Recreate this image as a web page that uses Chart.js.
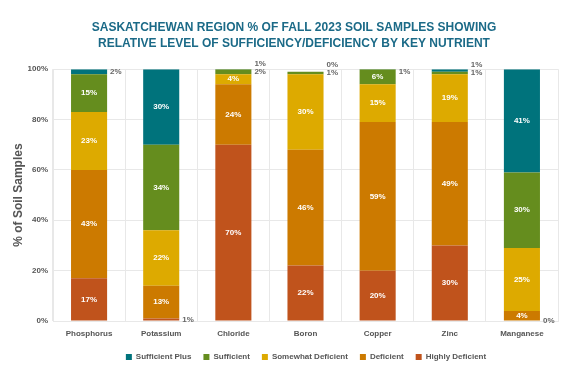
<!DOCTYPE html>
<html>
<head>
<meta charset="utf-8">
<script src="https://cdn.jsdelivr.net/npm/chart.js@4.4.1/dist/chart.umd.min.js"></script>
<style>
  html, body { margin: 0; padding: 0; background: #fff; }
  #wrap { width: 572px; height: 381px; }
</style>
</head>
<body>
<div id="wrap"><canvas id="chart-area"></canvas></div>
<script>
// nutrients along the x axis
var nutrients = ["Phosphorus", "Potassium", "Chloride", "Boron", "Copper", "Zinc", "Manganese"];

// % of samples in each level
var highlyDeficient   = [17, 1, 70, 22, 20, 30, 0];
var deficient         = [43, 13, 24, 46, 59, 49, 4];
var somewhatDeficient = [23, 22, 4, 30, 15, 19, 25];
var sufficient        = [15, 34, 2, 1, 6, 1, 30];
var sufficientPlus    = [2, 30, 1, 0, 1, 1, 41];

var yTicks = [0, 20, 40, 60, 80, 100];

var FONT = '"Liberation Sans", Arial, sans-serif';

// writes the % labels: white inside big segments, grey to the right of small ones
var labelPlugin = {
	id: 'segLabels',
	afterDatasetsDraw: function (chart) {
		var ctx = chart.ctx;
		var top = chart.chartArea.top;
		ctx.save();
		ctx.font = 'bold 8px ' + FONT;
		ctx.textBaseline = 'middle';
		for (var i = 0; i < nutrients.length; i++) {
			var lastY = null;
			for (var d = 0; d < chart.data.datasets.length; d++) {
				var bar = chart.getDatasetMeta(d).data[i];
				var v = chart.data.datasets[d].data[i];
				var y0 = Math.max(bar.y, top);
				var y1 = Math.max(bar.base, top);
				var cy = (bar.y + bar.base) / 2;
				if (v >= 3) {
					ctx.fillStyle = '#ffffff';
					ctx.textAlign = 'center';
					ctx.fillText(v + '%', bar.x, (y0 + y1) / 2);
				} else {
					var ly = cy;
					if (lastY === null) {
						if (ly < top + 3) ly = top + 3;
					} else if (ly > lastY - 8) {
						ly = lastY - 8;
					}
					lastY = ly;
					ctx.fillStyle = '#666666';
					ctx.textAlign = 'left';
					ctx.fillText(v + '%', bar.x + bar.width / 2 + 3, ly);
				}
			}
		}
		ctx.restore();
	}
};

// title and legend sit a little right of the canvas centre in the original
var nudgePlugin = {
	id: 'nudge',
	afterLayout: function (chart) {
		if (chart.titleBlock) {
			chart.titleBlock.left += 10;
			chart.titleBlock.right += 10;
		}
		if (chart.legend) {
			chart.legend.left += 22;
			chart.legend.right += 22;
		}
	}
};

init();

function init () {
	barChart();
}

function barChart () {
	var config = {
		type: 'bar',
		data: {
			labels: nutrients,
			datasets: [
				{ label: 'Highly Deficient', data: highlyDeficient, backgroundColor: '#C0531C' },
				{ label: 'Deficient', data: deficient, backgroundColor: '#CC7A00' },
				{ label: 'Somewhat Deficient', data: somewhatDeficient, backgroundColor: '#DDAA00' },
				{ label: 'Sufficient', data: sufficient, backgroundColor: '#658D1E' },
				{ label: 'Sufficient Plus', data: sufficientPlus, backgroundColor: '#00737C' }
			]
		},
		options: {
			responsive: true,
			maintainAspectRatio: false,
			animation: false,
			barPercentage: 0.5,
			categoryPercentage: 1,
			layout: { padding: { left: 10, right: 14, top: 20, bottom: 10 } },
			scales: {
				x: {
					stacked: true,
					grid: { color: '#e8e8e8', drawTicks: false },
					border: { color: '#e8e8e8' },
					afterFit: function (axis) { axis.height = 20; },
					ticks: {
						color: '#555',
						padding: 8,
						font: { family: FONT, size: 8, weight: 'bold' }
					}
				},
				y: {
					stacked: true,
					min: 0,
					max: 100,
					afterBuildTicks: function (axis) {
						axis.ticks = yTicks.map(function (v) { return { value: v }; });
					},
					afterFit: function (axis) { axis.width = 43; },
					grid: { color: '#e8e8e8', drawTicks: false },
					border: { color: '#e8e8e8' },
					ticks: {
						color: '#555',
						padding: 5,
						font: { family: FONT, size: 8, weight: 'bold' },
						callback: function (v) { return v + '%'; }
					},
					title: {
						display: true,
						text: '% of Soil Samples',
						color: '#555',
						padding: 1,
						font: { family: FONT, size: 12, weight: 'bold' }
					}
				}
			},
			plugins: {
				title: {
					display: true,
					text: ['SASKATCHEWAN REGION % OF FALL 2023 SOIL SAMPLES SHOWING', 'RELATIVE LEVEL OF SUFFICIENCY/DEFICIENCY BY KEY NUTRIENT'],
					color: '#1B6A87',
					font: { family: FONT, size: 12, weight: 'bold', lineHeight: 1.3 },
					padding: { top: 0, bottom: 18 }
				},
				legend: {
					position: 'bottom',
					reverse: true,
					labels: {
						boxWidth: 6,
						boxHeight: 6,
						color: '#555',
						padding: 12,
						font: { family: FONT, size: 8, weight: 'bold' }
					}
				},
				tooltip: { enabled: false }
			}
		},
		plugins: [labelPlugin, nudgePlugin]
	};

	var ctx = document.getElementById("chart-area").getContext("2d");
	window.myBar = new Chart(ctx, config);
}
</script>
</body>
</html>
